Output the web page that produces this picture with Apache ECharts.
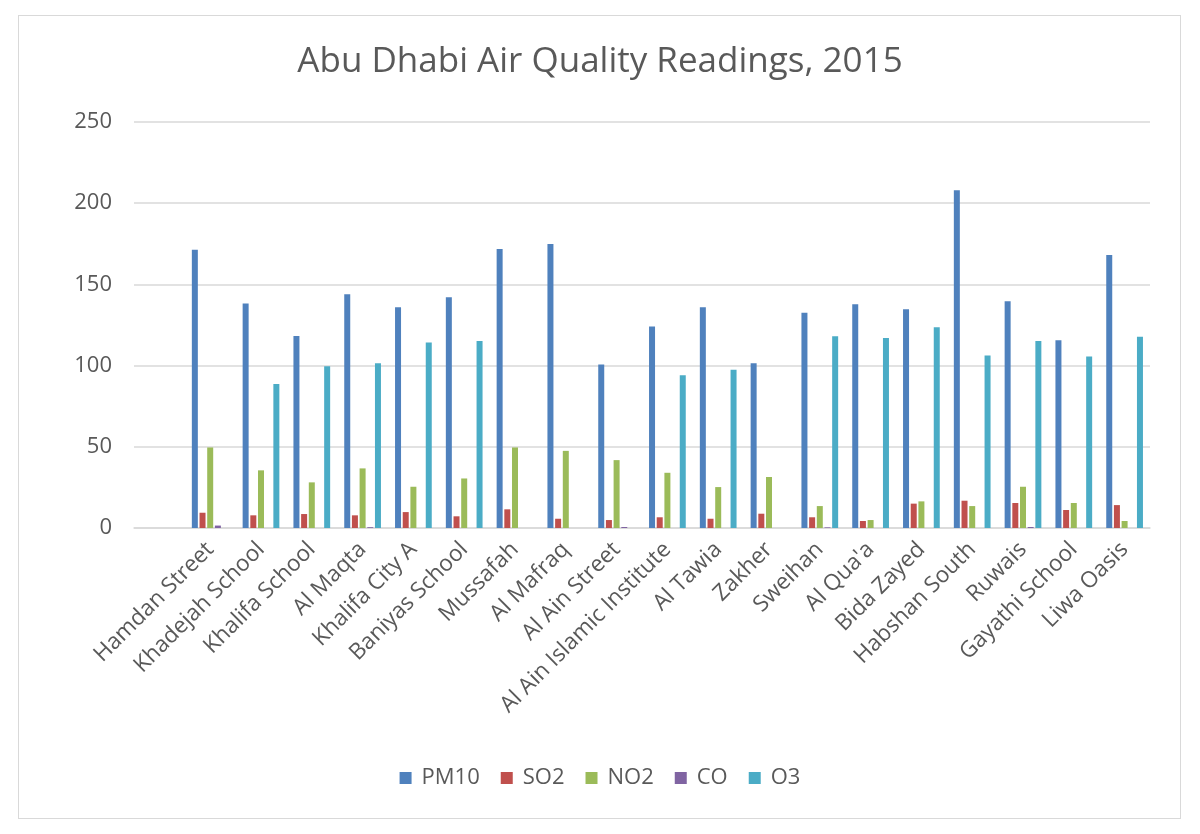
<!DOCTYPE html>
<html>
<head>
<meta charset="utf-8">
<script src="https://cdn.jsdelivr.net/npm/echarts@6/dist/echarts.min.js"></script>
<style>
  html, body { margin: 0; padding: 0; background: #fff; }
  #frame { position: absolute; left: 18px; top: 15px; width: 1161px; height: 802px; border: 1px solid #d9d9d9; }
  #container { position: absolute; left: 0; top: 0; width: 1200px; height: 834px; }
</style>
</head>
<body>
<div id="frame"></div>
<div id="container"></div>
<script>
var stations = ['Hamdan Street', 'Khadejah School', 'Khalifa School', 'Al Maqta', 'Khalifa City A',
    'Baniyas School', 'Mussafah', 'Al Mafraq', 'Al Ain Street', 'Al Ain Islamic Institute',
    'Al Tawia', 'Zakher', 'Sweihan', "Al Qua'a", 'Bida Zayed', 'Habshan South', 'Ruwais',
    'Gayathi School', 'Liwa Oasis'];
var pm10 = [171.4, 138.2, 118.3, 143.9, 135.9, 142.1, 171.8, 174.8, 100.7, 124.0,
    135.9, 101.5, 132.6, 137.8, 134.7, 207.9, 139.6, 115.6, 168.1];
var so2 = [9.4, 7.8, 8.6, 7.8, 9.8, 7.2, 11.5, 5.7, 4.9, 6.6,
    5.7, 8.8, 6.6, 4.3, 15.0, 16.8, 15.4, 11.1, 14.1];
var no2 = [49.6, 35.5, 28.1, 36.7, 25.4, 30.5, 49.6, 47.5, 41.8, 34.0,
    25.2, 31.4, 13.5, 4.9, 16.4, 13.5, 25.4, 15.4, 4.3];
var co = [1.5, 0, 0, 0.5, 0, 0, 0, 0, 0.6, 0,
    0, 0, 0.4, 0, 0, 0, 0.6, 0, 0];
var o3 = [0, 88.6, 99.6, 101.5, 114.2, 115.2, 0, 0, 0, 94.1,
    97.4, 0, 118.1, 117.0, 123.6, 106.2, 115.2, 105.6, 117.7];
var seriesNames = ['PM10', 'SO2', 'NO2', 'CO', 'O3'];
var colors = ['#4F81BD', '#C0504D', '#9BBB59', '#8064A2', '#4BACC6'];

// Excel leaves an empty first slot on the axis
var cats = [''].concat(stations);
var allData = [pm10, so2, no2, co, o3];

var font = 'Open Sans';
var dom = document.getElementById('container');
var myChart = echarts.init(dom);
var series = [];
for (var i = 0; i < seriesNames.length; i++) {
    series.push({
        name: seriesNames[i],
        type: 'bar',
        barWidth: 6,
        barGap: '28%',
        data: [null].concat(allData[i])
    });
}
var option = {
    color: colors,
    animation: false,
    title: {
        text: 'Abu Dhabi Air Quality Readings, 2015',
        left: 'center',
        top: 40,
        textStyle: { fontFamily: font, fontSize: 35, fontWeight: 'normal', color: '#595959' }
    },
    legend: {
        top: 762,
        left: 'center',
        itemWidth: 12,
        itemHeight: 12,
        itemGap: 21,
        icon: 'rect',
        textStyle: { fontFamily: font, fontSize: 22, color: '#595959', padding: [0, 0, 0, 5] },
        data: seriesNames
    },
    grid: { left: 134, right: 50, top: 122, bottom: 306 },
    xAxis: {
        type: 'category',
        data: cats,
        axisLine: { lineStyle: { color: '#d9d9d9', width: 1.5 } },
        axisTick: { show: false },
        axisLabel: {
            rotate: 45,
            interval: 0,
            margin: 18,
            fontFamily: font,
            fontSize: 22.5,
            color: '#595959'
        }
    },
    yAxis: {
        type: 'value',
        min: 0,
        max: 250,
        interval: 50,
        axisLine: { show: false },
        axisTick: { show: false },
        splitLine: { lineStyle: { color: '#d9d9d9', width: 1.5 } },
        axisLabel: { margin: 22, fontFamily: font, fontSize: 22, color: '#595959' }
    },
    series: series
};
myChart.setOption(option, true);
</script>
</body>
</html>
